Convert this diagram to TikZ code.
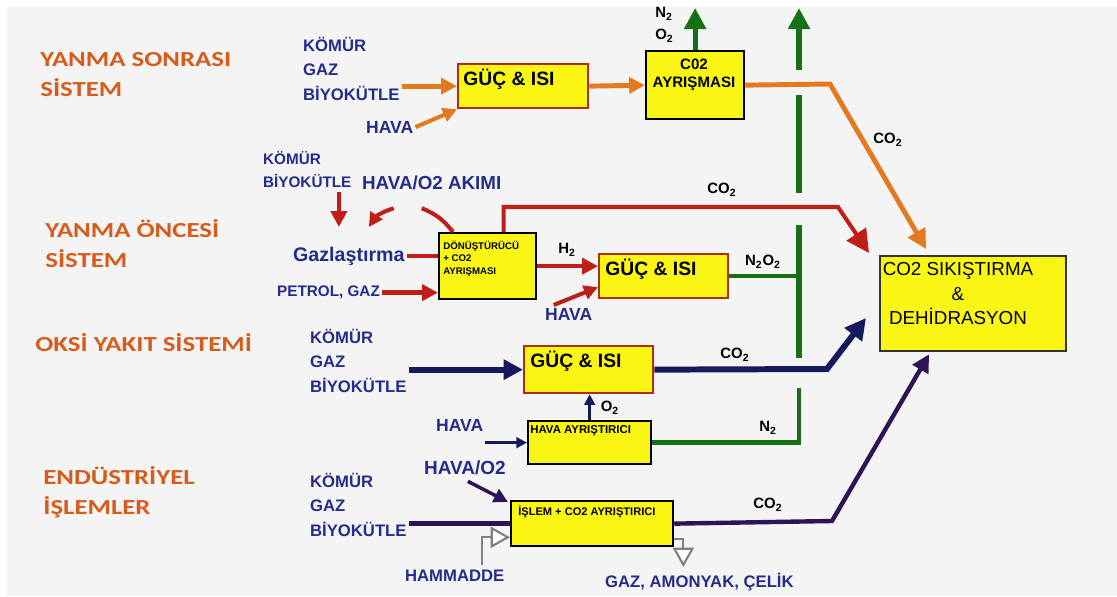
\documentclass[tikz,border=0pt]{standalone}
\usepackage{fontspec}
\setmainfont{Liberation Sans}
\newfontfamily\genisfont[FakeStretch=1.25]{Carlito}
\usetikzlibrary{arrows.meta,positioning}

\definecolor{zemin}{RGB}{244,244,244}
\definecolor{sari}{RGB}{250,246,20}
\definecolor{kenar}{RGB}{175,45,20}
\definecolor{turuncu}{RGB}{228,122,32}
\definecolor{turuncuyazi}{RGB}{214,92,28}
\definecolor{maviyazi}{RGB}{36,44,138}
\definecolor{kirmizi}{RGB}{192,30,24}
\definecolor{yesil}{RGB}{22,112,22}
\definecolor{lacivert}{RGB}{22,26,92}
\definecolor{mor}{RGB}{46,20,86}
\definecolor{gri}{RGB}{128,128,128}

\tikzset{
  kutu/.style={draw=#1, fill=sari, line width=1.3pt, inner sep=0pt, anchor=north west},
  kutuyazi/.style={font=\bfseries\fontsize{11}{13}\selectfont, inner sep=0pt, anchor=north west},
  minikyazi/.style={font=\bfseries\fontsize{5.5}{7}\selectfont, inner sep=0pt, anchor=north west, align=left},
  sistem/.style={text=turuncuyazi, font=\genisfont\bfseries\fontsize{12.2}{17}\selectfont, align=left, inner sep=0pt, anchor=north west},
  girdi/.style={text=maviyazi, font=\bfseries\fontsize{9.5}{14}\selectfont, align=left, inner sep=1pt, anchor=north west},
  gazyazi/.style={font=\bfseries\fontsize{8.5}{11}\selectfont, inner sep=0pt, align=left},
  ok/.style={-{Triangle[length=#1,width=#1]}},
  ok/.default=10pt,
  acikok/.style={-{Triangle[open,fill=white,length=11pt,width=12pt]}}
}

\begin{document}
\begin{tikzpicture}[x=0.02cm, y=-0.02cm]
    \useasboundingbox (0,0) rectangle (1117,596);
    \fill[white] (0,0) rectangle (1117,596);
    \fill[zemin] (7,7) rectangle (1117,596);

    % Sistem adlari
    \node[sistem] (sys1) at (40,52) {YANMA SONRASI\\SİSTEM};
    \node[sistem] (sys2) at (45,219) {YANMA ÖNCESİ\\SİSTEM};
    \node[sistem] (sys3) at (35,333) {OKSİ YAKIT SİSTEMİ};
    \node[sistem] (sys4) at (43,466) {ENDÜSTRİYEL\\İŞLEMLER};

    % Kutular
    \node[kutu=kenar, minimum width=2.6cm, minimum height=0.88cm] (guc1) at (457,63) {};
    \node[kutuyazi] (guc1y) at (463,69) {GÜÇ \& ISI};
    \node[kutu=black, minimum width=1.96cm, minimum height=1.36cm] (ayr1) at (645,50) {};
    \node[font=\bfseries\fontsize{8.6}{10}\selectfont, align=center, anchor=north, inner sep=0pt] (ayr1y) at (694,59) {C02\\AYRIŞMASI};
    \node[kutu=black, minimum width=1.94cm, minimum height=1.32cm] (pre) at (438,232) {};
    \node[minikyazi] (prey) at (443,241) {DÖNÜŞTÜRÜCÜ\\+ CO2\\AYRIŞMASI};
    \node[kutu=kenar, minimum width=2.58cm, minimum height=0.88cm] (guc2) at (598,253) {};
    \node[kutuyazi] (guc2y) at (605,259) {GÜÇ \& ISI};
    \node[kutu=kenar, minimum width=2.58cm, minimum height=0.94cm] (guc3) at (523,345) {};
    \node[kutuyazi] (guc3y) at (530,351) {GÜÇ \& ISI};
    \node[kutu=black, minimum width=2.46cm, minimum height=0.86cm] (havaayr) at (527,420) {};
    \node[minikyazi, font=\bfseries\fontsize{6.5}{7}\selectfont] (havaayry) at (530,425) {HAVA AYRIŞTIRICI};
    \node[kutu=black, minimum width=3.24cm, minimum height=0.9cm] (islem) at (510,500) {};
    \node[minikyazi, font=\bfseries\fontsize{6.3}{7}\selectfont] (islemy) at (518,506) {İŞLEM + CO2 AYRIŞTIRICI};
    \node[kutu=black!80, minimum width=3.72cm, minimum height=1.9cm] (sikis) at (879,255) {};
    \node[font=\fontsize{10.7}{14}\selectfont, align=center, inner sep=0pt, anchor=north] (sikisy) at (958,262) {CO2 SIKIŞTIRMA\\\&\\DEHİDRASYON};

    % Girdiler
    \node[girdi] (gir1) at (301,35) {KÖMÜR\\GAZ\\BİYOKÜTLE};
    \node[girdi, font=\bfseries\fontsize{10}{12}\selectfont] (hava1) at (364,119) {HAVA};
    \node[girdi, font=\bfseries\fontsize{8.7}{13.5}\selectfont] (gir2) at (261,149) {KÖMÜR\\BİYOKÜTLE};
    \node[girdi, font=\bfseries\fontsize{10.7}{12}\selectfont] (akim) at (360,174) {HAVA/O2 AKIMI};
    \node[girdi, font=\bfseries\fontsize{11.2}{13}\selectfont] (gaz) at (291,245) {Gazlaştırma};
    \node[girdi, font=\bfseries\fontsize{8.7}{12}\selectfont] (petrol) at (275,284) {PETROL, GAZ};
    \node[girdi, font=\bfseries\fontsize{10}{12}\selectfont] (hava2) at (543,306) {HAVA};
    \node[girdi] (gir3) at (308,327) {KÖMÜR\\GAZ\\BİYOKÜTLE};
    \node[girdi, font=\bfseries\fontsize{10}{12}\selectfont] (hava3) at (434,417) {HAVA};
    \node[girdi, font=\bfseries\fontsize{10.8}{12}\selectfont] (havao2) at (422,459) {HAVA/O2};
    \node[girdi] (gir4) at (308,471) {KÖMÜR\\GAZ\\BİYOKÜTLE};
    \node[girdi] (hammadde) at (403,568) {HAMMADDE};
    \node[girdi] (urun) at (603,571) {GAZ, AMONYAK, ÇELİK};

    % Gaz adlari
    \node[gazyazi, anchor=north west, font=\bfseries\fontsize{8.5}{12.5}\selectfont] (n2o2a) at (655,7) {N\textsubscript{2}\\O\textsubscript{2}};
    \node[gazyazi] (co2a) at (888,140) {CO\textsubscript{2}};
    \node[gazyazi] (co2b) at (722,190) {CO\textsubscript{2}};
    \node[gazyazi] (h2) at (567,250) {H\textsubscript{2}};
    \node[gazyazi] (n2o2b) at (763,262) {N\textsubscript{2}O\textsubscript{2}};
    \node[gazyazi] (co2c) at (735,355) {CO\textsubscript{2}};
    \node[gazyazi] (o2) at (610,408) {O\textsubscript{2}};
    \node[gazyazi] (n2) at (768,428) {N\textsubscript{2}};
    \node[gazyazi] (co2d) at (768,505) {CO\textsubscript{2}};

    % Yanma sonrasi akislari
    \coordinate (k1) at (830,84);
    \draw[turuncu, line width=2.8pt, ok=9pt] (gir1.east |- guc1.west) -- (guc1.west);
    \draw[turuncu, line width=2.3pt, ok=8pt] (hava1.east) -- (guc1.south west);
    \draw[turuncu, line width=2.8pt, ok=9pt] (guc1.east) -- (ayr1.west);
    \draw[turuncu, line width=2.8pt, ok=11pt] (ayr1.east) -- (k1) -- ([shift={(-47,-6)}]sikis.north);

    % Yesil cikislar (kesisimlerde bosluk)
    \coordinate (dik) at (799,0);
    \draw[yesil, line width=3pt, ok=12pt] (ayr1.north) -- ++(0,-42);
    \draw[yesil, line width=2pt] (guc2.east) -- (guc2.east -| dik);
    \draw[yesil, line width=2.6pt] (havaayr.east) -| (dik |- 0,388);
    \foreach \ust/\alt in {358/225, 193/95}
        \draw[yesil, line width=3pt] (dik |- 0,\ust) -- (dik |- 0,\alt);
    \draw[yesil, line width=3pt, ok=12pt] (dik |- 0,70) -- (dik |- 0,8);

    % Yanma oncesi akislari
    \coordinate (k2) at (838,207);
    \draw[kirmizi, line width=2.5pt, ok=9pt] ([shift={(-10,2)}]gaz.north |- gir2.south) -- ([shift={(-10,-18)}]gaz.north);
    \draw[kirmizi, line width=2.3pt, ok=8pt] ([shift={(-38,16)}]akim.south) to[bend right=20] ([shift={(20,-18)}]gaz.north);
    \draw[kirmizi, line width=2.3pt] ([shift={(-10,16)}]akim.south) to[bend left=15] ([shift={(15,0)}]pre.north west);
    \draw[kirmizi, line width=2.5pt] (gaz.east) -- (gaz.east -| pre.west);
    \draw[kirmizi, line width=2.5pt, ok=9pt] (petrol.east) -- (petrol.east -| pre.west);
    \draw[kirmizi, line width=2.3pt, ok=13pt] ([shift={(16,0)}]pre.north) |- (k2) -- ([shift={(-10,-2)}]sikis.north west);
    \draw[kirmizi, line width=2.5pt, ok=9pt] (pre.east) -- (pre.east -| guc2.west);
    \draw[kirmizi, line width=2.3pt, ok=8pt] ([shift={(-15,-1)}]hava2.north) -- ([shift={(0,11)}]guc2.west);

    % Oksi yakit akislari
    \coordinate (k3) at (827,369);
    \draw[lacivert, line width=3.4pt, ok=11pt] (guc3.west -| gir3.east) -- (guc3.west);
    \draw[lacivert, line width=3.4pt, ok=12pt] (guc3.east) -- (k3) -- ([shift={(-13,63)}]sikis.north west);
    \draw[lacivert, line width=1.6pt, ok=6pt] (hava3.east |- havaayr.west) -- (havaayr.west);
    \draw[lacivert, line width=1.6pt, ok=6pt] (havaayr.north) -- (havaayr.north |- guc3.south);

    % Endustriyel islem akislari
    \coordinate (k4) at (832,521);
    \draw[mor, line width=3pt] (islem.west -| gir4.east) -- (islem.west);
    \draw[mor, line width=2pt, ok=8pt] ([shift={(3,4)}]havao2.south) -- ([shift={(-2,2)}]islem.north west);
    \draw[mor, line width=2.5pt, ok=10pt] (islem.east) -- (k4) -- ([shift={(-44,2)}]sikis.south);
    \draw[gri, line width=1.2pt, acikok] ([shift={(27,-3)}]hammadde.north) |- ([shift={(0,-10)}]islem.south west);
    \draw[gri, line width=1.2pt, acikok] ([shift={(0,-8)}]islem.south east) -| ([shift={(-16,-4)}]urun.north);

\end{tikzpicture}
\end{document}
